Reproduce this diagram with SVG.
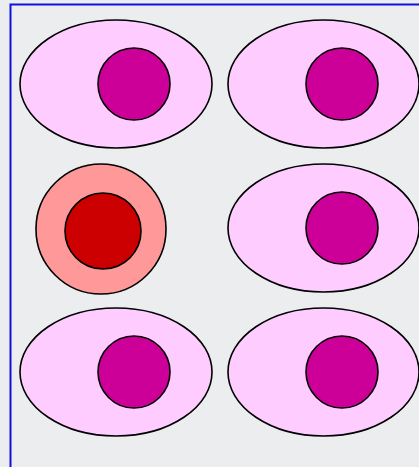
<svg xmlns="http://www.w3.org/2000/svg" width="419" height="467" viewBox="0 0 419 467">
<style>
.cell{fill:#FFCCFF;stroke:#000;stroke-width:1.6}
.nuc{fill:#CC0099;stroke:#000;stroke-width:1.6}
</style>
<rect x="0" y="0" width="419" height="467" fill="#EBEDEE"/>
<rect x="10.5" y="4.5" width="420" height="470" fill="#EBEDEE" stroke="#1111DD" stroke-width="2"/>
<g id="cell1"><ellipse class="cell" cx="116" cy="84" rx="96" ry="64"/><circle class="nuc" cx="134" cy="84" r="36"/></g>
<g id="cell2"><ellipse class="cell" cx="323.5" cy="84" rx="95.5" ry="64"/><circle class="nuc" cx="342" cy="84" r="36"/></g>
<g id="cell3"><circle cx="101" cy="229" r="65" fill="#FF9999" stroke="#000" stroke-width="1.6"/><circle cx="103" cy="231" r="38" fill="#CC0000" stroke="#000" stroke-width="1.6"/></g>
<g id="cell4"><ellipse class="cell" cx="323.5" cy="228" rx="95.5" ry="64"/><circle class="nuc" cx="342" cy="228" r="36"/></g>
<g id="cell5"><ellipse class="cell" cx="116" cy="372" rx="96" ry="64"/><circle class="nuc" cx="134" cy="372" r="36"/></g>
<g id="cell6"><ellipse class="cell" cx="323.5" cy="372" rx="95.5" ry="64"/><circle class="nuc" cx="342" cy="372" r="36"/></g>
<g id="connectors"></g>
</svg>
